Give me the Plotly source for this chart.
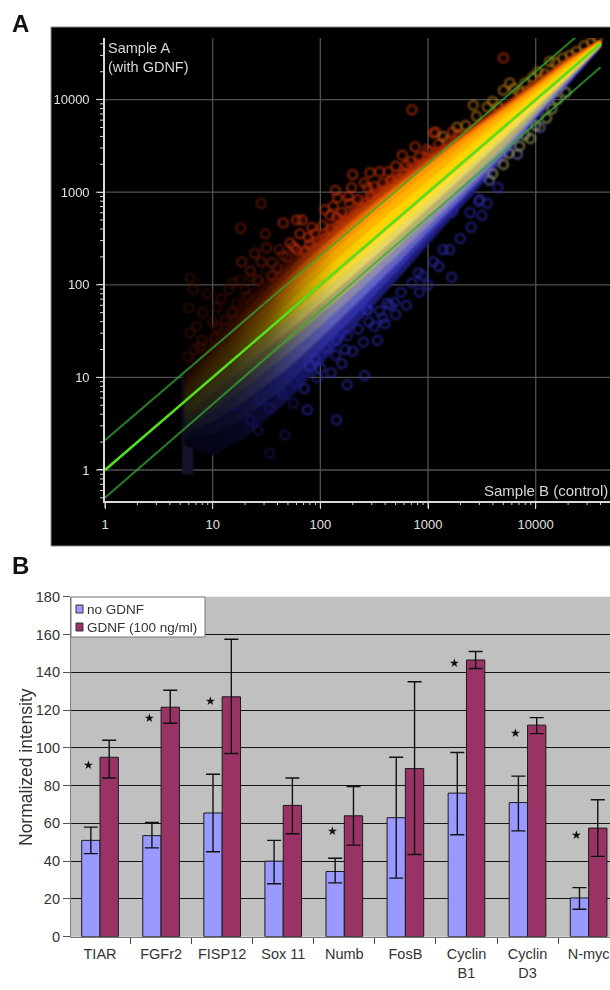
import math
import plotly.graph_objects as go

# ---------- Panel A data ----------
ridge_x = [5.5, 10, 20, 50, 100, 200, 500, 1000, 2000, 5000, 10000, 20000, 40000]
# envelope of the point cloud, as fold change from the diagonal at each ridge_x
up_dark = [2.4, 3.6, 4.0, 3.9, 3.9, 3.9, 3.4, 2.8, 2.25, 1.85, 1.65, 1.45, 1.1]
up_red = [2.1, 2.9, 3.3, 3.4, 3.4, 3.4, 3.0, 2.55, 2.15, 1.8, 1.6, 1.42, 1.1]
up_redorange = [1.9, 2.4, 2.7, 2.9, 3.0, 3.0, 2.7, 2.35, 2.05, 1.72, 1.55, 1.4, 1.1]
up_orange = [1.6, 1.9, 2.2, 2.4, 2.5, 2.5, 2.35, 2.15, 1.95, 1.65, 1.48, 1.35, 1.09]
up_amber = [1.4, 1.6, 1.8, 2.0, 2.1, 2.15, 2.1, 1.95, 1.8, 1.55, 1.4, 1.28, 1.08]
up_gold = [1.25, 1.35, 1.45, 1.6, 1.7, 1.75, 1.7, 1.65, 1.55, 1.42, 1.3, 1.22, 1.06]
up_yellow = [1.1, 1.15, 1.2, 1.28, 1.32, 1.35, 1.35, 1.32, 1.3, 1.25, 1.2, 1.14, 1.04]
lo_navy = [3, 7, 9, 9, 7.5, 6, 4.6, 3.7, 3.0, 2.3, 1.7, 1.4, 1.1]
lo_blue = [2.6, 4.2, 5.5, 6, 5.2, 4.6, 3.7, 3.1, 2.6, 2.1, 1.6, 1.35, 1.08]
lo_violet = [2.3, 3, 3.6, 4.0, 3.8, 3.5, 3.1, 2.7, 2.4, 2, 1.55, 1.3, 1.07]
lo_grey = [2, 2.3, 2.6, 2.8, 2.8, 2.7, 2.5, 2.3, 2.1, 1.85, 1.5, 1.25, 1.06]
lo_khaki = [1.7, 1.9, 2, 2.1, 2.1, 2.1, 2, 1.9, 1.8, 1.65, 1.4, 1.2, 1.05]
lo_pale = [1.4, 1.5, 1.55, 1.6, 1.6, 1.6, 1.55, 1.5, 1.45, 1.35, 1.25, 1.14, 1.04]
lo_lemon = [1.15, 1.18, 1.2, 1.22, 1.25, 1.25, 1.25, 1.25, 1.22, 1.2, 1.15, 1.1, 1.03]

# single outlying spots, log10 intensity
red_logx = [2.88, 2.76, 2.63, 2.30, 2.14, 2.16, 2.29, 2.27, 2.09, 1.83, 1.92, 1.89, 1.75, 2.80, 2.46, 2.55,
            2.44, 2.04, 2.15, 3.05, 3.23, 2.99, 3.70, 2.85, 3.07, 1.78,
            1.72, 1.78, 1.81, 1.86, 1.90, 1.95, 1.98, 2.02, 2.05, 2.10, 2.12, 2.18, 2.20, 2.24, 2.26, 2.32, 2.35, 2.38,
            2.41, 2.47, 2.50, 2.53, 2.58, 2.60, 2.66, 2.70, 2.72, 2.78, 2.84, 2.92, 2.95, 3.02, 3.10, 3.18, 3.28]
red_logy = [3.49, 3.40, 3.22, 3.19, 3.02, 2.94, 3.05, 2.88, 2.75, 2.70, 2.62, 2.51, 2.41, 3.29, 3.21, 3.22,
            3.05, 2.81, 2.73, 3.64, 3.65, 3.46, 4.45, 3.89, 3.65, 2.70,
            2.45, 2.38, 2.55, 2.36, 2.44, 2.55, 2.40, 2.64, 2.50, 2.60, 2.85, 2.62, 2.78, 2.68, 2.95, 2.75, 2.92, 2.82,
            3.10, 2.95, 3.06, 2.92, 3.10, 3.00, 3.12, 3.28, 3.14, 3.20, 3.33, 3.38, 3.30, 3.44, 3.52, 3.55, 3.62]
mid_red_logx = [1.66, 1.69, 1.45, 1.65, 1.26, 1.49, 1.39, 1.27, 1.55, 1.62, 1.45, 1.50, 1.55, 1.60, 1.65, 1.35, 1.42]
mid_red_logy = [2.67, 2.30, 2.88, 2.67, 2.61, 2.55, 2.34, 2.25, 2.24, 2.38, 2.25, 2.40, 2.10, 2.18, 2.32, 2.15, 2.05]
dim_red_logx = [0.79, 0.79, 0.77, 0.91, 1.04, 1.19, 1.36, 1.50, 0.88, 1.04, 1.18, 1.32, 0.78, 0.82, 0.85, 0.95, 1.00,
                1.08, 1.12, 1.15, 1.22, 1.25, 1.30, 1.02, 0.90, 0.83]
dim_red_logy = [2.07, 1.48, 1.22, 1.70, 1.76, 2.02, 2.08, 2.16, 1.33, 1.54, 1.70, 1.87, 1.75, 1.95, 1.55, 1.90, 1.60,
                1.85, 1.62, 1.95, 1.80, 2.05, 1.95, 1.42, 1.40, 1.30]
orange_logx = [3.42, 3.27, 3.70, 3.76, 4.13, 4.32, 3.97, 3.55, 3.14, 3.35, 3.45, 3.60, 3.65, 3.80, 3.85, 3.90, 4.02,
               4.08, 4.18, 4.25, 4.38, 4.45, 4.52, 4.57]
orange_logy = [3.94, 3.70, 4.10, 4.18, 4.41, 4.48, 4.24, 3.92, 3.60, 3.72, 3.82, 3.98, 3.92, 4.12, 4.08, 4.18, 4.30,
               4.28, 4.40, 4.45, 4.52, 4.58, 4.62, 4.66]
blue_logx = [2.15, 2.25, 2.41, 2.53, 2.58, 2.69, 1.97, 2.14, 2.23, 1.88, 2.44, 2.92, 3.22, 2.91, 3.14, 3.39, 2.62, 2.43,
             3.48, 3.47, 3.50, 3.23, 1.85, 1.90, 1.95, 2.00, 2.05, 2.10, 2.15, 2.20, 2.25, 2.30, 2.35, 2.40, 2.45, 2.50,
             2.55, 2.60, 2.65, 2.70, 2.75, 2.80, 2.85, 2.95, 3.00, 3.05, 3.10, 3.20, 3.30, 3.40, 3.55, 3.65]
blue_logy = [0.54, 0.92, 1.02, 1.40, 1.64, 1.81, 1.00, 1.24, 1.30, 0.65, 1.73, 1.92, 2.08, 2.13, 2.38, 2.78, 1.80, 1.73,
             2.92, 2.90, 2.75, 2.79, 0.88, 1.12, 1.20, 1.10, 1.32, 1.05, 1.40, 1.15, 1.45, 1.28, 1.52, 1.38, 1.60, 1.55,
             1.72, 1.58, 1.78, 1.68, 1.92, 1.78, 2.02, 2.10, 2.00, 2.25, 2.20, 2.38, 2.50, 2.62, 2.88, 3.05]
dim_blue_logx = [1.53, 1.67, 1.42, 1.53, 1.75, 1.35, 1.62, 1.44, 1.69, 1.25, 1.78, 1.75, 1.80, 1.30, 1.40, 1.50, 1.58,
                 1.65, 1.20]
dim_blue_logy = [0.18, 0.38, 0.43, 0.67, 0.72, 0.54, 0.86, 0.76, 1.05, 0.83, 1.15, 0.95, 1.02, 0.95, 1.00, 0.90, 1.02,
                 0.82, 0.70]
pale_blue_logx = [3.83, 3.57, 4.04]
pale_blue_logy = [3.41, 3.13, 3.70]
khaki_logx = [3.70, 3.75, 3.85, 3.90, 3.95, 4.00, 4.10, 4.15, 4.20, 4.28, 3.60]
khaki_logy = [3.30, 3.42, 3.50, 3.62, 3.58, 3.72, 3.80, 3.90, 4.00, 4.08, 3.20]

wall_x = [5.2, 6.6, 6.6, 5.2]
wall_y = [0.9, 0.9, 12, 12]

line_x = [1, 40000]
fold_up = [2.1, 2.0]
fold_mid = [1.0, 1.0]
fold_lo = [0.5, 0.56]

decades_a = [1, 10, 100, 1000, 10000]
decade_text = ["1", "10", "100", "1000", "10000"]
minor_vals_x = [m * 10 ** d for d in range(0, 5) for m in range(2, 10)]
minor_vals_y = [0.5, 0.6, 0.7, 0.8, 0.9] + [v for v in minor_vals_x if v < 45000]

# ---------- Panel B data ----------
genes = ["TIAR", "FGFr2", "FISP12", "Sox 11", "Numb", "FosB", "Cyclin<br>B1", "Cyclin<br>D3", "N-myc"]
no_gdnf = [51, 53.5, 65.5, 40, 34.5, 63, 76, 71, 20.5]
no_gdnf_hi = [58, 60.5, 86, 51, 41.5, 95, 97.5, 85, 26]
no_gdnf_lo = [44, 47, 45, 28, 28.5, 31, 54, 56, 14.5]
gdnf = [95, 121.5, 127, 69.5, 64, 89, 146.5, 112, 57.5]
gdnf_hi = [104, 130.5, 157.5, 84, 79.5, 135, 151, 116, 72.5]
gdnf_lo = [84, 113, 97, 54.5, 48.5, 43.5, 142, 107.5, 42.5]
star_gene = [0, 1, 2, 4, 6, 7, 8]
star_y = [91, 116, 125, 56, 145, 108, 54]
y_ticks_b = [0, 20, 40, 60, 80, 100, 120, 140, 160, 180]

W, H = 610, 990
def fx(px): return px / W
def fy(py): return 1 - py / H

X_RANGE_A = [0, 4.69]
Y_RANGE_A = [-0.335, 4.665]
AX_L, AX_B, AX_T = 105, 501, 38
FONT = "Liberation Sans, Arial, sans-serif"
fig = go.Figure()

# decade grid of panel A
grid_x, grid_y = [], []
for v in decades_a[1:]:
    grid_x += [v, v, None]
    grid_y += [10 ** Y_RANGE_A[0], 10 ** Y_RANGE_A[1], None]
for v in decades_a:
    grid_x += [10 ** X_RANGE_A[0], 10 ** X_RANGE_A[1], None]
    grid_y += [v, v, None]
fig.add_trace(go.Scatter(x=grid_x, y=grid_y, mode="lines", line=dict(color="#505050", width=1.3),
                         hoverinfo="skip", showlegend=False))


def dimmed(hexcol):
    r, g, b = int(hexcol[1:3], 16), int(hexcol[3:5], 16), int(hexcol[5:7], 16)
    stops = [(0, 0.16), (0.11, 0.24), (0.2, 0.42), (0.28, 0.72), (0.36, 0.94), (0.45, 1.0), (1, 1.0)]
    return [[p, f"rgb({int(r*k)},{int(g*k)},{int(b*k)})"] for p, k in stops]


def band(fold, color, above):
    ys = [x * f if above else x / f for x, f in zip(ridge_x, fold)]
    fig.add_trace(go.Scatter(
        x=ridge_x + ridge_x[::-1], y=ys + ridge_x[::-1], mode="none", fill="toself",
        fillgradient=dict(type="horizontal", colorscale=dimmed(color)),
        hoverinfo="skip", showlegend=False, xaxis="x", yaxis="y"))


def spots(lx, ly, color, size=9):
    fig.add_trace(go.Scatter(
        x=[10 ** v for v in lx], y=[10 ** v for v in ly], mode="markers",
        marker=dict(symbol="circle-open", size=size, color=color, line=dict(width=2, color=color)),
        hoverinfo="skip", showlegend=False))


fig.add_trace(go.Scatter(x=wall_x, y=wall_y, mode="none", fill="toself", fillcolor="rgb(20,20,46)",
                         hoverinfo="skip", showlegend=False))

for fold, col in [(lo_navy, "#1c1c78"), (lo_blue, "#3232aa")]:
    band(fold, col, False)
for fold, col in [(up_dark, "#3a0d00"), (up_red, "#7a1c00")]:
    band(fold, col, True)

spots(blue_logx, blue_logy, "rgba(45,45,185,0.7)")
spots(dim_blue_logx, dim_blue_logy, "rgba(28,28,120,0.6)")
spots(pale_blue_logx, pale_blue_logy, "rgba(110,110,190,0.8)")
spots(red_logx, red_logy, "rgba(200,50,10,0.75)")
spots(mid_red_logx, mid_red_logy, "rgba(125,28,8,0.7)")
spots(dim_red_logx, dim_red_logy, "rgba(70,16,5,0.7)")
spots(orange_logx, orange_logy, "rgba(200,130,20,0.7)")
spots(khaki_logx, khaki_logy, "rgba(180,180,110,0.7)")

for fold, col in [(lo_violet, "#6464c4"), (lo_grey, "#8c8cb0"), (lo_khaki, "#b8b070"), (lo_pale, "#e8d860"),
                  (lo_lemon, "#ffe030")]:
    band(fold, col, False)
for fold, col in [(up_redorange, "#b83800"), (up_orange, "#e86a00"), (up_amber, "#ff9a00"), (up_gold, "#ffb400"),
                  (up_yellow, "#ffd400")]:
    band(fold, col, True)

for fold, col, w in [(fold_up, "rgba(50,170,50,0.75)", 2), (fold_lo, "rgba(50,170,50,0.75)", 2),
                     (fold_mid, "#55e01e", 2.6)]:
    fig.add_trace(go.Scatter(x=line_x, y=[x * f for x, f in zip(line_x, fold)], mode="lines",
                             line=dict(color=col, width=w), hoverinfo="skip", showlegend=False))

# ---------- Panel B traces ----------
fig.add_trace(go.Bar(
    x=genes, y=no_gdnf, name="no GDNF", xaxis="x2", yaxis="y2", showlegend=False,
    marker=dict(color="#9999ff", line=dict(color="#1a1a1a", width=1)),
    error_y=dict(type="data", symmetric=False,
                 array=[h - v for h, v in zip(no_gdnf_hi, no_gdnf)],
                 arrayminus=[v - l for l, v in zip(no_gdnf_lo, no_gdnf)],
                 color="#111", thickness=1.4, width=7)))
fig.add_trace(go.Bar(
    x=genes, y=gdnf, name="GDNF (100 ng/ml)", xaxis="x2", yaxis="y2", showlegend=False,
    marker=dict(color="#993366", line=dict(color="#1a1a1a", width=1)),
    error_y=dict(type="data", symmetric=False,
                 array=[h - v for h, v in zip(gdnf_hi, gdnf)],
                 arrayminus=[v - l for l, v in zip(gdnf_lo, gdnf)],
                 color="#111", thickness=1.4, width=7)))


# tick marks of panel A, placed through the axis scale
def px_of_x(v):
    return AX_L + (math.log10(v) - X_RANGE_A[0]) / (X_RANGE_A[1] - X_RANGE_A[0]) * (W - AX_L)


def py_of_y(v):
    return AX_B - (math.log10(v) - Y_RANGE_A[0]) / (Y_RANGE_A[1] - Y_RANGE_A[0]) * (AX_B - AX_T)


tick_style = dict(type="line", xref="paper", yref="paper", layer="above", line=dict(color="#d8d8d8", width=1))
tick_shapes = []
for v in minor_vals_x:
    tick_shapes.append(dict(x0=fx(px_of_x(v)), x1=fx(px_of_x(v)), y0=fy(AX_B), y1=fy(AX_B + 4), **tick_style))
for v in decades_a:
    tick_shapes.append(dict(x0=fx(px_of_x(v)), x1=fx(px_of_x(v)), y0=fy(AX_B), y1=fy(AX_B + 7), **tick_style))
    tick_shapes.append(dict(x0=fx(AX_L - 9), x1=fx(AX_L), y0=fy(py_of_y(v)), y1=fy(py_of_y(v)), **tick_style))
for v in minor_vals_y:
    tick_shapes.append(dict(x0=fx(AX_L - 5), x1=fx(AX_L), y0=fy(py_of_y(v)), y1=fy(py_of_y(v)), **tick_style))

fig.update_layout(
    width=W, height=H, autosize=False, margin=dict(l=0, r=0, t=0, b=0, autoexpand=False),
    paper_bgcolor="white", plot_bgcolor="rgba(0,0,0,0)", barmode="group", bargap=0.4, bargroupgap=0,
    font=dict(family=FONT, color="#333"),
    xaxis=dict(type="log", domain=[fx(AX_L), 1], range=X_RANGE_A, anchor="y",
               tickmode="array", tickvals=decades_a, ticktext=decade_text,
               tickfont=dict(size=13, color="#e0e0e0"), ticks="outside", ticklen=6, tickwidth=1.2,
               tickcolor="#d8d8d8", ticklabelstandoff=5,
               showgrid=False, zeroline=False, showline=True, linecolor="#d8d8d8", linewidth=1.6),
    yaxis=dict(type="log", domain=[fy(AX_B), fy(AX_T)], range=Y_RANGE_A, anchor="x",
               tickmode="array", tickvals=decades_a, ticktext=decade_text,
               tickfont=dict(size=13, color="#e0e0e0"), ticks="outside", ticklen=5, tickwidth=1,
               tickcolor="#d8d8d8", ticklabelstandoff=6,
               showgrid=False, zeroline=False, showline=True, linecolor="#d8d8d8", linewidth=1.6),
    xaxis2=dict(type="category", categoryorder="array", categoryarray=genes, domain=[fx(71), 1],
                range=[-0.475, 8.35], anchor="y2", tickson="boundaries", ticks="outside", ticklen=6,
                tickwidth=1.4, tickcolor="#444", tickfont=dict(size=14.5, color="#333"),
                showgrid=False, showline=True, linecolor="#777", linewidth=1.2, ticklabelstandoff=4),
    yaxis2=dict(domain=[fy(936.7), fy(596.7)], range=[0, 180], anchor="x2", tickmode="array", tickvals=y_ticks_b,
                tickfont=dict(size=14.5, color="#333"), ticks="outside", ticklen=7, tickwidth=1.2, tickcolor="#555",
                showgrid=True, gridcolor="#151515", gridwidth=1.3, zeroline=False,
                showline=True, linecolor="#808080", linewidth=1.2),
    shapes=[
        dict(type="rect", xref="paper", yref="paper", x0=fx(51), x1=fx(620), y0=fy(546), y1=fy(27),
             fillcolor="black", line=dict(color="#8a8a8a", width=1), layer="below"),
        dict(type="rect", xref="paper", yref="paper", x0=fx(71), x1=fx(620), y0=fy(936.7), y1=fy(596.7),
             fillcolor="#c0c0c0", line=dict(width=0), layer="below"),
        dict(type="rect", xref="paper", yref="paper", x0=fx(71), x1=fx(205), y0=fy(637), y1=fy(597),
             fillcolor="white", line=dict(color="#777", width=1), layer="above"),
        dict(type="rect", xref="paper", yref="paper", x0=fx(76), x1=fx(83), y0=fy(613), y1=fy(605),
             fillcolor="#9999ff", line=dict(color="#333", width=1), layer="above"),
        dict(type="rect", xref="paper", yref="paper", x0=fx(76), x1=fx(83), y0=fy(631), y1=fy(623),
             fillcolor="#993366", line=dict(color="#333", width=1), layer="above"),
    ] + tick_shapes,
)

ann = [
    dict(text="<b>A</b>", x=fx(10), y=fy(23), font=dict(size=24, color="#111"), xanchor="left"),
    dict(text="<b>B</b>", x=fx(10), y=fy(565), font=dict(size=24, color="#111"), xanchor="left"),
    dict(text="Sample A<br>(with GDNF)", x=fx(106), y=fy(57), font=dict(size=14.5, color="#d8d8d8"),
         xanchor="left", align="left"),
    dict(text="Sample B (control)", x=fx(482), y=fy(490), font=dict(size=15, color="#d8d8d8"), xanchor="left"),
    dict(text="Normalized intensity", x=fx(14), y=fy(767), textangle=-90, font=dict(size=17.5, color="#333")),
    dict(text="no GDNF", x=fx(85), y=fy(609), font=dict(size=13.5, color="#333"), xanchor="left"),
    dict(text="GDNF (100 ng/ml)", x=fx(85), y=fy(627), font=dict(size=13.5, color="#333"), xanchor="left"),
]
for a in ann:
    fig.add_annotation(xref="paper", yref="paper", showarrow=False, yanchor="middle", **a)
for g, v in zip(star_gene, star_y):
    fig.add_annotation(xref="x2", yref="y2", x=g, y=v, text="★", showarrow=False, xshift=-12,
                       font=dict(size=12, color="#111", family="DejaVu Sans"))

fig.write_html("out.html", config={"displayModeBar": False},
               post_script="document.body.style.margin='0';document.body.style.overflow='hidden';"
                           "var tr=document.querySelectorAll('.subplot.xy .scatterlayer .trace');"
                           "tr.forEach(function(t,i){if(i<1)return;t.style.filter=i<tr.length-3?'blur(1.2px)':'blur(0.4px)';});")
